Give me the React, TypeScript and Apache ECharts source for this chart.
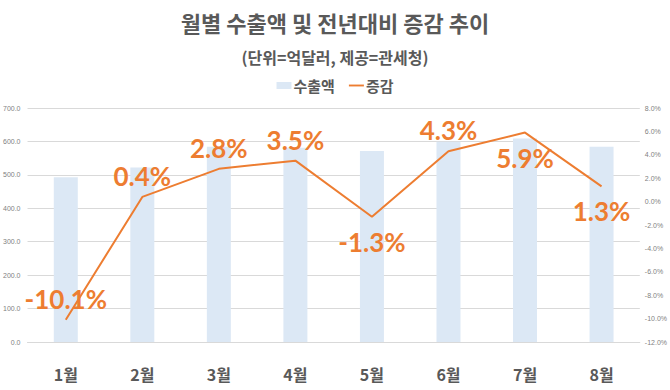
import React, { useEffect, useRef } from "react";
import * as echarts from "echarts";

const months = ["1월", "2월", "3월", "4월", "5월", "6월", "7월", "8월"];
const exportValues = [493, 522, 584, 581, 571, 599, 609, 584];
const changeValues = [-10.1, 0.4, 2.8, 3.5, -1.3, 4.3, 5.9, 1.3];
const labelPositions = ["top", "top", "top", "top", "bottom", "top", "bottom", "bottom"];

const KR = "'Noto Sans CJK KR', 'Noto Sans', sans-serif";

export default function App() {
  const ref = useRef<HTMLDivElement>(null);
  useEffect(() => {
    if (!ref.current) return;
    const chart = echarts.init(ref.current, undefined, { renderer: "svg" });
    chart.setOption({
      animation: false,
      backgroundColor: "#ffffff",
      title: [
        {
          text: "월별 수출액 및 전년대비 증감 추이",
          left: "center",
          top: 6,
          textStyle: { fontFamily: KR, fontSize: 22, fontWeight: "bold", color: "#595959" },
        },
        {
          text: "(단위=억달러, 제공=관세청)",
          left: "center",
          top: 44,
          textStyle: { fontFamily: KR, fontSize: 16, fontWeight: "bold", color: "#595959" },
        },
      ],
      legend: {
        top: 73,
        left: "center",
        itemWidth: 15,
        itemHeight: 7,
        itemGap: 14,
        textStyle: { fontFamily: KR, fontSize: 15, fontWeight: "bold", color: "#595959", padding: [0, 0, 0, -3] },
        data: [
          { name: "수출액", icon: "rect" },
          { name: "증감", icon: "path://M0,0 L16,0 L16,2 L0,2 Z" },
        ],
      },
      grid: { left: 25, right: 27, top: 108, bottom: 48, containLabel: false },
      xAxis: {
        type: "category",
        data: months,
        axisLine: { lineStyle: { color: "#d9d9d9" } },
        axisTick: { show: false },
        axisLabel: { fontFamily: KR, fontSize: 16, fontWeight: "bold", color: "#595959", margin: 24 },
      },
      yAxis: [
        {
          type: "value",
          min: 0,
          max: 700,
          interval: 100,
          axisLine: { show: false },
          axisTick: { show: false },
          splitLine: { lineStyle: { color: "#d9d9d9" } },
          axisLabel: {
            fontFamily: "'Liberation Sans', sans-serif",
            fontSize: 7,
            color: "#7f7f7f",
            margin: 7,
            formatter: (v: number) => v.toFixed(1),
          },
        },
        {
          type: "value",
          min: -12,
          max: 8,
          interval: 2,
          axisLine: { show: false },
          axisTick: { show: false },
          splitLine: { show: false },
          axisLabel: {
            fontFamily: "'Liberation Sans', sans-serif",
            fontSize: 7,
            color: "#7f7f7f",
            margin: 5,
            formatter: (v: number) => v.toFixed(1) + "%",
          },
        },
      ],
      series: [
        {
          name: "수출액",
          type: "bar",
          data: exportValues,
          barWidth: 24,
          itemStyle: { color: "#dce8f5" },
        },
        {
          name: "증감",
          type: "line",
          yAxisIndex: 1,
          symbol: "circle",
          symbolSize: 0.01,
          showSymbol: true,
          lineStyle: { color: "#ed7d31", width: 2 },
          itemStyle: { color: "#ed7d31" },
          data: changeValues.map((v, i) => ({
            value: v,
            label: {
              show: true,
              position: labelPositions[i],
              distance: labelPositions[i] === "top" ? 8 : 12,
              formatter: (p: any) => p.value.toFixed(1) + "%",
              fontFamily: "Lato, 'Noto Sans', sans-serif",
              fontSize: 26,
              fontWeight: "bold",
              color: "#ed7d31",
            },
          })),
        },
      ],
    });
    return () => chart.dispose();
  }, []);
  return <div ref={ref} style={{ width: 670, height: 390, position: "absolute", left: 0, top: 0 }} />;
}
